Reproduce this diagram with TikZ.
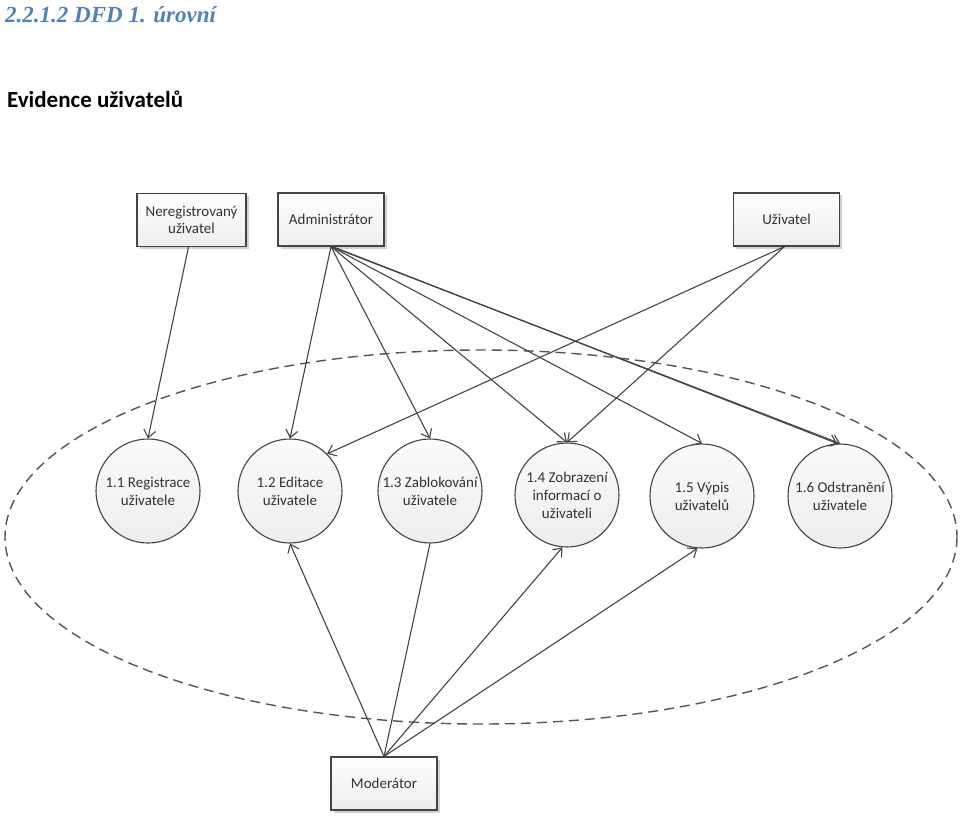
\documentclass[tikz,border=0pt]{standalone}
\usepackage{fontspec}
\setmainfont{Carlito}
\newfontfamily\titlefont{Liberation Serif}
\usetikzlibrary{arrows.meta,shadows}
\definecolor{titleblue}{HTML}{4F81BD}
\definecolor{linegray}{HTML}{444444}
\definecolor{txtgray}{HTML}{333333}
\definecolor{dashgray}{HTML}{555555}
\begin{document}
\begin{tikzpicture}[x=1pt,y=-1pt,
  entity/.style={draw=linegray, line width=1.1pt, top color=white, bottom color=gray!14,
    minimum width=106pt, minimum height=53pt, inner sep=2pt, align=center,
    font=\fontsize{15}{17.5}\selectfont, text=txtgray,
    drop shadow={shadow xshift=2.5pt, shadow yshift=-2.5pt, fill=black!30, opacity=0.6}},
  proc/.style={circle, draw=linegray, line width=1.1pt, top color=gray!3, bottom color=gray!14,
    minimum size=104pt, inner sep=0pt, align=center,
    font=\fontsize{15}{18}\selectfont, text=txtgray},
  flow/.style={draw=linegray, line width=1.1pt, -{Straight Barb[length=7.5pt,width=12pt]}},
  plainflow/.style={draw=linegray, line width=1.1pt}
]
\useasboundingbox (0,0) rectangle (960,818);
% headings
\node[anchor=base west, inner sep=0pt, text=titleblue,
      font=\titlefont\bfseries\itshape\fontsize{23}{26}\selectfont] (title) at (5,23) {2.2.1.2 DFD 1. úrovní};
\node[anchor=base west, inner sep=0pt, text=black,
      font=\bfseries\fontsize{23}{27}\selectfont] (heading) at (7,108) {Evidence uživatelů};
% boundary
\draw[dashgray, line width=1.4pt, dash pattern=on 10pt off 6pt] (481,537) ellipse [x radius=476, y radius=187];
% external entities
\node[entity, minimum width=109pt] (nereg) at (191.5,220) {Neregistrovaný\\uživatel};
\node[entity] (adm) at (331,219.5) {Administrátor};
\node[entity] (uziv) at (786.5,219.5) {Uživatel};
\node[entity] (mod) at (384,783.5) {Moderátor};
% processes
\node[proc] (c11) at (148,491) {1.1 Registrace\\uživatele};
\node[proc] (c12) at (290,491) {1.2 Editace\\uživatele};
\node[proc] (c13) at (430,491) {1.3 Zablokování\\uživatele};
\node[proc] (c14) at (567,495) {1.4 Zobrazení\\informací o\\uživateli};
\node[proc] (c15) at (702,496) {1.5 Výpis\\uživatelů};
\node[proc] (c16) at (840,496) {1.6 Odstranění\\uživatele};
% flows
\draw[flow] ([xshift=-3pt]nereg.south) -- (c11.north);
\draw[flow] (adm.south) -- (c12.north);
\draw[flow] (adm.south) -- (c13.north);
\draw[flow] (adm.south) -- (c14.north);
\draw[flow] (adm.south) -- (c15.north);
\draw[flow] (adm.south) -- (c16.north);
\draw[flow] ([xshift=1.5pt]adm.south) -- (c16.93);
\draw[flow] ([xshift=-2pt]uziv.south) -- (c12.45);
\draw[flow] ([xshift=-2pt]uziv.south) -- (c14.north);
\draw[flow] (mod.north) -- (c12.south);
\draw[plainflow] (c13.south) -- (mod.north);
\draw[flow] (mod.north) -- (c14.265);
\draw[flow] (mod.north) -- (c15.265);
\end{tikzpicture}
\end{document}
